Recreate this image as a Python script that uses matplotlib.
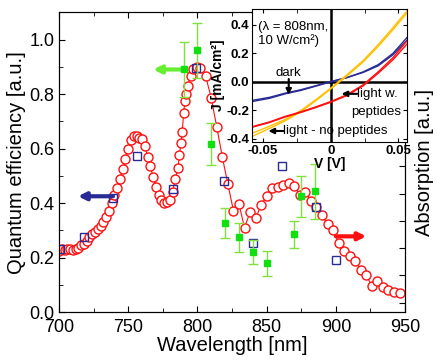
import matplotlib
matplotlib.use('Agg')
import matplotlib.pyplot as plt
from matplotlib.ticker import MultipleLocator, FixedLocator, FixedFormatter

plt.rcParams['font.family'] = ['Liberation Sans', 'DejaVu Sans']
plt.rcParams['axes.unicode_minus'] = False

# absorption spectrum (red open circles, plotted in QE units)
abs_wl = [700, 702, 704, 706, 708, 710, 712, 714, 716, 718, 720, 722, 724, 726,
          728, 730, 732, 734, 736, 738, 740, 742, 744, 746, 748, 750, 752, 754,
          756, 758, 760, 762, 764, 766, 768, 770, 772, 774, 776, 778, 780, 782,
          784, 786, 787, 788, 789, 790, 791, 792, 793, 795, 797, 800, 802, 806,
          810, 814, 818, 822, 826, 830, 834, 838, 842, 846, 850, 854, 858, 862,
          866, 870, 874, 878, 882, 886, 890, 894, 898, 902, 906, 910, 914, 918,
          922, 926, 930, 934, 938, 942, 946]
abs_val = [0.225, 0.23, 0.228, 0.23, 0.232, 0.228, 0.232, 0.235, 0.245, 0.25,
           0.26, 0.275, 0.285, 0.295, 0.305, 0.315, 0.33, 0.35, 0.37, 0.40,
           0.43, 0.455, 0.49, 0.525, 0.56, 0.60, 0.63, 0.645, 0.645, 0.64,
           0.635, 0.61, 0.57, 0.535, 0.495, 0.46, 0.43, 0.41, 0.40, 0.405,
           0.41, 0.44, 0.49, 0.53, 0.575, 0.62, 0.66, 0.73, 0.775, 0.80, 0.83,
           0.865, 0.89, 0.90, 0.895, 0.865, 0.784, 0.678, 0.568, 0.469, 0.372,
           0.396, 0.31, 0.366, 0.344, 0.392, 0.427, 0.454, 0.458, 0.466, 0.472,
           0.461, 0.43, 0.44, 0.407, 0.385, 0.355, 0.322, 0.30, 0.253, 0.223,
           0.205, 0.187, 0.154, 0.136, 0.095, 0.114, 0.092, 0.081, 0.073, 0.07]

# quantum efficiency, no peptides (blue open squares)
qe_wl = [701, 718, 739, 756, 782, 799, 819, 840, 861, 886, 900]
qe_val = [0.23, 0.275, 0.417, 0.571, 0.45, 0.897, 0.48, 0.252, 0.537, 0.385, 0.19]

# quantum efficiency with peptides (green squares + error bars)
qep_wl = [790, 800, 810, 820, 830, 840, 850, 870, 875, 885]
qep_val = [0.89, 0.96, 0.615, 0.326, 0.275, 0.22, 0.18, 0.286, 0.425, 0.443]
qep_err = [0.10, 0.10, 0.077, 0.055, 0.053, 0.045, 0.046, 0.05, 0.075, 0.10]

# inset J-V curves (two traces each)
iv_v = [-0.058, -0.045, -0.034, -0.022, -0.011, 0.0, 0.012, 0.024, 0.035, 0.046, 0.057]
dark_a = [-0.138, -0.115, -0.085, -0.06, -0.03, 0.0, 0.03, 0.07, 0.12, 0.20, 0.318]
dark_b = [-0.130, -0.108, -0.080, -0.055, -0.027, 0.002, 0.03, 0.066, 0.112, 0.19, 0.298]
nopep_a = [-0.360, -0.31, -0.265, -0.20, -0.125, -0.044, 0.05, 0.15, 0.26, 0.38, 0.505]
nopep_b = [-0.382, -0.325, -0.275, -0.208, -0.132, -0.050, 0.042, 0.14, 0.248, 0.366, 0.49]
pep_a = [-0.314, -0.28, -0.243, -0.21, -0.175, -0.138, -0.09, -0.02, 0.07, 0.17, 0.295]
pep_b = [-0.318, -0.284, -0.247, -0.214, -0.18, -0.143, -0.096, -0.028, 0.06, 0.155, 0.272]

C_RED = '#ff1010'
C_BLUE = '#2a2a96'
C_GREEN = '#10e010'
C_GREEN_ERR = '#80e040'
C_GREEN_ARROW = '#66ee33'
C_YELLOW = '#ffc000'

fig = plt.figure(figsize=(4.37, 3.6), dpi=100)
ax = fig.add_axes([0.135, 0.133, 0.792, 0.833])

ax.plot(abs_wl, abs_val, '-o', color=C_RED, lw=0.8, markersize=6.5,
        markerfacecolor='white', markeredgecolor=C_RED, markeredgewidth=1.0, zorder=2)
ax.plot(qe_wl, qe_val, 's', markersize=5.5, markerfacecolor='none',
        markeredgecolor=C_BLUE, markeredgewidth=1.0, zorder=3)
ax.errorbar(qep_wl, qep_val, yerr=qep_err, fmt='s', markersize=5,
            color=C_GREEN, ecolor=C_GREEN_ERR, elinewidth=1, capsize=3.5,
            capthick=1, zorder=4)

arrow_kw = dict(arrowstyle='-|>', lw=3, mutation_scale=11, shrinkA=0, shrinkB=0)
ax.annotate('', xy=(713.7, 0.425), xytext=(739, 0.425),
            arrowprops=dict(color=C_BLUE, **arrow_kw))
ax.annotate('', xy=(768, 0.89), xytext=(790, 0.89),
            arrowprops=dict(color=C_GREEN_ARROW, **arrow_kw))
ax.annotate('', xy=(922, 0.278), xytext=(900, 0.278),
            arrowprops=dict(color=C_RED, **arrow_kw))

ax.set_xlim(700, 950)
ax.set_ylim(0, 1.1)
ax.xaxis.set_major_locator(MultipleLocator(50))
ax.xaxis.set_minor_locator(MultipleLocator(25))
ax.yaxis.set_major_locator(MultipleLocator(0.2))
ax.yaxis.set_minor_locator(MultipleLocator(0.1))
ax.tick_params(which='both', direction='in', top=True, right=False, labelsize=13)
ax.tick_params(which='major', length=4)
ax.tick_params(which='minor', length=3)
ax.tick_params(axis='x', pad=5)
ax.set_xlabel('Wavelength [nm]', fontsize=14.5, labelpad=0)
ax.set_ylabel('Quantum efficiency [a.u.]', fontsize=14.5, labelpad=2)

# right axis: absorption, ticks only
axr = ax.twinx()
axr.set_ylim(-0.035, 1.065)
axr.yaxis.set_major_locator(MultipleLocator(0.1))
axr.tick_params(direction='in', length=4, labelright=False)
axr.set_ylabel('Absorption [a.u.]', fontsize=14.5, labelpad=7)

# inset: J-V curves
ins = fig.add_axes([0.577, 0.606, 0.355, 0.369])
for ya, yb, c in ((dark_a, dark_b, C_BLUE), (nopep_a, nopep_b, C_YELLOW),
                  (pep_a, pep_b, C_RED)):
    ins.plot(iv_v, ya, color=c, lw=1.0)
    ins.plot(iv_v, yb, color=c, lw=1.0)
ins.axhline(0, color='black', lw=1.8, zorder=1)
ins.axvline(0, color='black', lw=1.8, zorder=1)
ins.set_xlim(-0.058, 0.0565)
ins.set_ylim(-0.42, 0.51)
ins.xaxis.set_major_locator(FixedLocator([-0.05, 0.0, 0.05]))
ins.xaxis.set_major_formatter(FixedFormatter(['-0.05', '0', '0.05']))
ins.xaxis.set_minor_locator(MultipleLocator(0.025))
ins.yaxis.set_major_locator(MultipleLocator(0.2))
ins.yaxis.set_major_formatter(plt.FuncFormatter(lambda v, p: f'{v:.1f}'))
ins.tick_params(which='both', direction='in', top=True, right=True,
                labelsize=9.5, pad=2, length=3)
for lab in ins.get_xticklabels() + ins.get_yticklabels():
    lab.set_fontweight('bold')
ins.set_xlabel('V [V]', fontsize=10, fontweight='bold', labelpad=0)
ins.set_ylabel('J [mA/cm²]', fontsize=10, fontweight='bold', labelpad=1)

ins.text(-0.054, 0.335, '(λ = 808nm,\n10 W/cm²)', fontsize=9.5,
         ha='left', va='center', linespacing=1.05)
ins.text(-0.031, 0.063, 'dark', fontsize=9.5, ha='center', va='center')
small_arrow = dict(arrowstyle='-|>', lw=1.5, color='black', mutation_scale=8,
                   shrinkA=0, shrinkB=0)
ins.annotate('', xy=(-0.031, -0.09), xytext=(-0.031, 0.02), arrowprops=small_arrow)
ins.text(0.0195, -0.084, 'light w.', fontsize=9.5, ha='left', va='center')
ins.annotate('', xy=(0.008, -0.084), xytext=(0.0195, -0.084), arrowprops=small_arrow)
ins.text(0.052, -0.21, 'peptides', fontsize=9.5, ha='right', va='center')
ins.text(-0.035, -0.344, 'light - no peptides', fontsize=9.5, ha='left', va='center')
ins.annotate('', xy=(-0.046, -0.344), xytext=(-0.035, -0.344), arrowprops=small_arrow)

fig.savefig('out.png', dpi=100)
